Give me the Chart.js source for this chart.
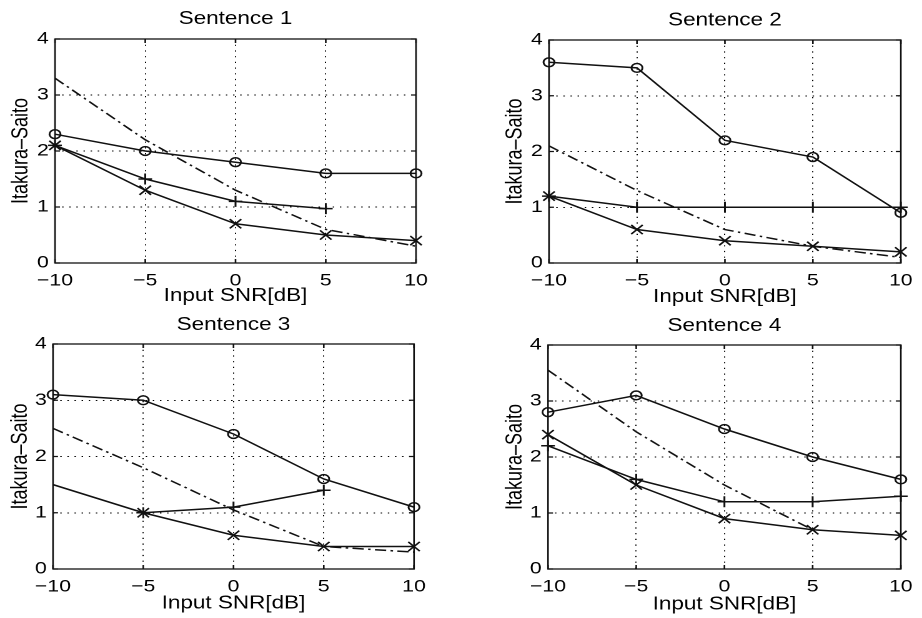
<!DOCTYPE html>
<html>
<head>
<meta charset="utf-8">
<script src="https://cdn.jsdelivr.net/npm/chart.js@4.4.0/dist/chart.umd.min.js"></script>
<style>
  html, body { margin: 0; padding: 0; background: #fff; }
  body { width: 922px; height: 618px; position: relative; overflow: hidden; }
  .panel { position: absolute; width: 369px; height: 309px; transform-origin: 0 0; }
</style>
</head>
<body>
<div class="panel" id="p1"><canvas id="c1"></canvas></div>
<div class="panel" id="p2"><canvas id="c2"></canvas></div>
<div class="panel" id="p3"><canvas id="c3"></canvas></div>
<div class="panel" id="p4"><canvas id="c4"></canvas></div>
<script>
// x categories (input SNR in dB) and y ticks
const snrLabels = ['\u221210', '\u22125', '0', '5', '10'];
const yMin = 0, yMax = 4, yStep = 1;
const sentenceTitles = ['Sentence 1', 'Sentence 2', 'Sentence 3', 'Sentence 4'];
const xAxisTitle = 'Input SNR[dB]';
const yAxisTitle = 'Itakura\u2013Saito';

// Sentence 1
const s1Circle = [2.3, 2.0, 1.8, 1.6, 1.6];
const s1Plus = [2.1, 1.5, 1.1, 0.97, null];
const s1Cross = [2.1, 1.3, 0.7, 0.5, 0.4];
const s1DashDot = [3.3, 2.2, 1.3, 0.6, 0.3];

// Sentence 2
const s2Circle = [3.6, 3.5, 2.2, 1.9, 0.9];
const s2Plus = [1.2, 1.0, 1.0, 1.0, 1.0];
const s2Cross = [1.2, 0.6, 0.4, 0.3, 0.2];
const s2DashDot = [2.1, 1.3, 0.6, 0.3, 0.1];

// Sentence 3
const s3Circle = [3.1, 3.0, 2.4, 1.6, 1.1];
const s3Plus = [null, 1.0, 1.1, 1.4, null];
const s3Cross = [1.5, 1.0, 0.6, 0.4, 0.4];
const s3DashDot = [2.5, 1.8, 1.05, 0.4, 0.3];

// Sentence 4
const s4Circle = [2.8, 3.1, 2.5, 2.0, 1.6];
const s4Plus = [2.2, 1.6, 1.2, 1.2, 1.3];
const s4Cross = [2.4, 1.5, 0.9, 0.7, 0.6];
const s4DashDot = [3.55, 2.45, 1.5, 0.7, null];

// the scanned figure is stretched sideways, so each panel is drawn narrower and scaled
const PANEL_W = 369, PANEL_H = 309;
const STRETCH = 461 / PANEL_W;
const FONT = "'Liberation Sans', Arial, Helvetica, sans-serif";
const INK = '#111';
const TITLE_SIZE = 18;

// panel origin and plot box in figure pixels, plus where the titles sit
const panels = [
  { id: 'c1', wrap: 'p1', x0: 0,   y0: 0,   box: [55, 39, 416, 263],  titleY: 19,   xTitleY: 296,   yTitleX: 21.5 },
  { id: 'c2', wrap: 'p2', x0: 461, y0: 0,   box: [549, 40, 912, 263], titleY: 20.5, xTitleY: 297,   yTitleX: 515.5 },
  { id: 'c3', wrap: 'p3', x0: 0,   y0: 309, box: [53, 344, 414, 569], titleY: 16,   xTitleY: 294.5, yTitleX: 20.5 },
  { id: 'c4', wrap: 'p4', x0: 461, y0: 309, box: [548, 345, 909, 569], titleY: 17,  xTitleY: 295.5, yTitleX: 515.5 }
];

const seriesSets = [
  [s1Circle, s1Plus, s1Cross, s1DashDot],
  [s2Circle, s2Plus, s2Cross, s2DashDot],
  [s3Circle, s3Plus, s3Cross, s3DashDot],
  [s4Circle, s4Plus, s4Cross, s4DashDot]
];

// box round the axes and small inward ticks, like MATLAB
const boxPlugin = {
  id: 'matlabBox',
  beforeDatasetsDraw(chart) {
    const { ctx, chartArea: a, scales } = chart;
    ctx.save();
    ctx.strokeStyle = INK;
    ctx.lineWidth = 1.3;
    ctx.setLineDash([]);
    ctx.strokeRect(a.left, a.top, a.right - a.left, a.bottom - a.top);
    ctx.beginPath();
    scales.x.ticks.forEach((t, i) => {
      const px = scales.x.getPixelForTick(i);
      ctx.moveTo(px, a.bottom); ctx.lineTo(px, a.bottom - 4);
      ctx.moveTo(px, a.top); ctx.lineTo(px, a.top + 4);
    });
    scales.y.ticks.forEach((t, i) => {
      const py = scales.y.getPixelForTick(i);
      ctx.moveTo(a.left, py); ctx.lineTo(a.left + 4, py);
      ctx.moveTo(a.right, py); ctx.lineTo(a.right - 4, py);
    });
    ctx.stroke();
    ctx.restore();
  }
};

function lineSet(data, style, radius, dash) {
  return {
    data: data,
    borderColor: INK,
    borderWidth: 1.5,
    borderDash: dash || [],
    pointStyle: style,
    pointRadius: radius,
    pointBorderColor: INK,
    pointBackgroundColor: 'rgba(0,0,0,0)',
    pointBorderWidth: 1.5,
    tension: 0,
    fill: false,
    clip: false,
    spanGaps: false
  };
}

panels.forEach((p, k) => {
  const wrap = document.getElementById(p.wrap);
  wrap.style.left = p.x0 + 'px';
  wrap.style.top = p.y0 + 'px';
  wrap.style.transform = 'scaleX(' + STRETCH + ')';

  const [l, t, r, b] = p.box;
  const yScaleWidth = (l - p.x0) / STRETCH;
  const rightPad = PANEL_W - (r - p.x0) / STRETCH;
  const titleTop = p.titleY - TITLE_SIZE / 2;
  const titleBottom = (t - p.y0) - titleTop - TITLE_SIZE;
  const xScaleHeight = PANEL_H - (b - p.y0);
  const xTitlePad = PANEL_H - TITLE_SIZE / 2 - p.xTitleY;
  const yTitlePad = (p.yTitleX - p.x0) / STRETCH - TITLE_SIZE / 2;

  const [circ, plus, cross, dashDot] = seriesSets[k];
  const crossRadius = k === 2 ? [0, 6.5, 6.5, 6.5, 6.5] : 6.5;

  new Chart(document.getElementById(p.id), {
    type: 'line',
    data: {
      labels: snrLabels,
      datasets: [
        lineSet(circ, 'circle', 4.4),
        lineSet(plus, 'cross', 5.5),
        lineSet(cross, 'crossRot', crossRadius),
        lineSet(dashDot, false, 0, [9, 3.5, 2, 3.5])
      ]
    },
    options: {
      responsive: true,
      maintainAspectRatio: false,
      devicePixelRatio: 2,
      animation: false,
      events: [],
      layout: { autoPadding: false, padding: { left: 0, right: rightPad, top: 0, bottom: 0 } },
      plugins: {
        legend: { display: false },
        tooltip: { enabled: false },
        title: {
          display: true,
          text: sentenceTitles[k],
          fullSize: false,
          color: '#000',
          font: { family: FONT, size: TITLE_SIZE, weight: 'normal', lineHeight: 1 },
          padding: { top: titleTop, bottom: titleBottom }
        }
      },
      scales: {
        x: {
          type: 'category',
          offset: false,
          grid: { color: '#000', lineWidth: 1, drawTicks: false },
          border: { display: false, dash: [1.2, 4.5] },
          ticks: {
            color: '#000', padding: 7.5, maxRotation: 0, autoSkip: false,
            font: { family: FONT, size: 17 }
          },
          title: {
            display: true, text: xAxisTitle, color: '#000',
            font: { family: FONT, size: TITLE_SIZE, lineHeight: 1 },
            padding: { top: 0, bottom: xTitlePad }
          },
          afterFit(scale) { scale.height = xScaleHeight; }
        },
        y: {
          min: yMin, max: yMax,
          grid: { color: '#000', lineWidth: 1, drawTicks: false },
          border: { display: false, dash: [1.2, 4.5] },
          ticks: {
            stepSize: yStep, color: '#000', padding: 5,
            font: { family: FONT, size: 17 }
          },
          title: {
            display: true, text: yAxisTitle, color: '#000',
            font: { family: FONT, size: TITLE_SIZE, lineHeight: 1 },
            padding: { top: yTitlePad, bottom: 0 }
          },
          afterFit(scale) { scale.width = yScaleWidth; }
        }
      }
    },
    plugins: [boxPlugin]
  });
});
</script>
</body>
</html>
